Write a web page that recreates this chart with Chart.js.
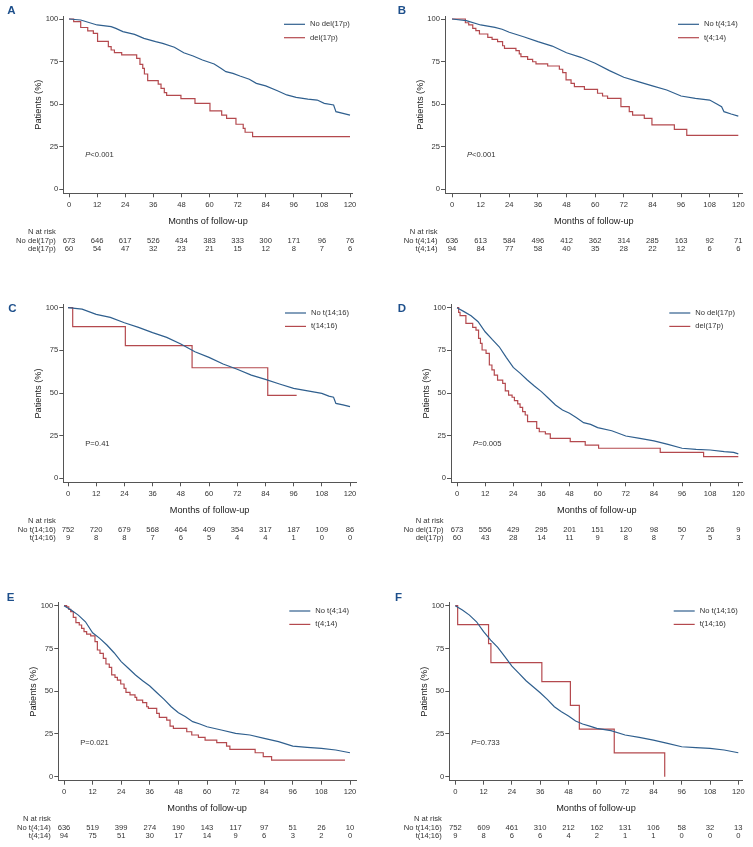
<!DOCTYPE html>
<html><head><meta charset="utf-8">
<script src="https://cdn.jsdelivr.net/npm/chart.js@4.4.1/dist/chart.umd.min.js"></script>
<style>
html,body{margin:0;padding:0;background:#fff;}
#wrap{position:relative;width:753px;height:847px;}
.pn{position:absolute;}
canvas{display:block;}
</style></head>
<body><div id="wrap"></div>
<script>
// ---------- tick labels ----------
const xTicks = [0,12,24,36,48,60,72,84,96,108,120];
const yTicks = [0,25,50,75,100];

// ---------- Panel A ----------
const aNoT  = [0,5,12,18,20,23,28,32,37,40,45,49,53,57,62,65,67,70,73,77,80,84,89,93,97,102,106,109,113,114,117,120];
const aNoS  = [100,99.4,96.5,95.5,94.5,92.6,91,88.6,86.7,85.7,83.4,80.2,78.3,75.9,73.6,71,69.1,68.1,66.5,64.6,62.2,60.7,57.9,55.4,54,53,52.4,50.5,49.5,45.6,44.6,43.6];
const aDelT = [0,2,5,8,10.4,12.2,16.8,18,19.4,22.5,28.9,30.3,31.5,32.2,33.6,38.1,39.3,40.7,41.7,47.8,53.8,60.2,65.2,67.3,71.3,74.4,75.2,78.4,120];
const aDelS = [100,98.5,95,93,91.6,86.9,83.8,81.8,80.2,78.9,76.9,73.4,71,67.7,63.8,61.8,59.3,56.8,55.2,53.2,50.5,46,43.6,41.7,38.2,35.8,33.5,30.9,30.9];
const aRiskNo  = [673,646,617,526,434,383,333,300,171,96,76];
const aRiskDel = [60,54,47,32,23,21,15,12,8,7,6];

// ---------- Panel B ----------
const bNoT = [0,6,12,18,21,24,30,36,42,48,54,60,66,72,78,84,90,96,102,108,111,113,114,117,120];
const bNoS = [100,99,96.5,95.1,94,92.2,89.6,86.7,84.1,80.2,77.5,74,69.7,65.8,63.2,60.7,58.3,54.8,53.4,52.4,50.1,48.5,45.6,44.2,43];
const bTT  = [0,5.6,7,8.7,10,11.5,15,16.8,19.1,21.2,22,26.8,28.2,28.9,31.7,33.8,35.2,40.1,45,46.4,47.8,49.9,51.3,55.5,61,63.1,65.2,70.8,74.3,75.7,80.6,83.8,93.2,98.4,120];
const bTS  = [100,97.8,96.5,94.5,93.2,91.2,89.2,88,86.7,84.3,82.8,81.4,79.5,77.9,76.3,74.9,73.6,72.4,70.5,68.5,64.2,62.2,60.3,58.7,56.4,54.8,53.4,48.5,45.6,43.6,41.7,37.8,35.2,31.7,31.7];
const bRiskNo = [636,613,584,496,412,362,314,285,163,92,71];
const bRiskT  = [94,84,77,58,40,35,28,22,12,6,6];

// ---------- Panel C ----------
const cNoT = [0,3,6,12,18,24,30,36,42,48,54,60,66,72,78,84,90,96,102,108,111,113,114,117,120];
const cNoS = [100,99.6,99.2,96.1,94.3,91.2,88.5,85.4,82.6,78.7,74.2,70.9,67,63.9,60.5,58,55.3,52.7,51.2,49.8,48.2,47.5,43.9,43,42];
const cTT  = [0,2,24.4,52.8,85,97.3];
const cTS  = [100,88.9,77.8,64.8,48.6,48.6];
const cRiskNo = [752,720,679,568,464,409,354,317,187,109,86];
const cRiskT  = [9,8,8,7,6,5,4,4,1,0,0];

// ---------- Panel D ----------
const dNoT  = [0,3,6,9,12,15,18,21,24,27,30,33,36,39,42,45,48,51,54,57,60,66,72,78,84,90,96,102,108,114,118,120];
const dNoS  = [100,97.7,95.3,91.8,85.9,81.4,77.1,70.9,65,61.5,57.6,54.1,50.8,46.9,43,40,38.1,35.5,32.6,31.6,29.7,27.9,24.8,23.4,21.9,19.9,17.6,17,16.6,15.6,15.2,14.3];
const dDelT = [0,0.7,1.3,3.8,6.7,8.1,9.2,10,10.7,12.4,13.8,14.9,15.9,17.3,19.5,20.6,22,23.5,24.5,25.9,26.9,28,29.1,30.1,34,35.1,37.7,39.8,48.3,54.7,60.4,86.7,105.2,120];
const dDelS = [100,97.3,95.3,90.8,88.5,86.9,82,79.1,75.2,73.2,66.4,63.5,60.5,57.6,55.7,51.2,48.8,47.5,45.5,43.6,41.6,39.1,37.1,33.2,29.3,27.3,26,23.4,21.5,19.5,17.6,15.2,12.7,12.7];
const dRiskNo  = [673,556,429,295,201,151,120,98,50,26,9];
const dRiskDel = [60,43,28,14,11,9,8,8,7,5,3];

// ---------- Panel E ----------
const eNoT = [0,3,6,9,12,15,18,21,24,27,30,33,36,39,42,45,48,51,54,57,60,66,72,78,84,90,96,102,108,114,120];
const eNoS = [100,97.5,94.5,90.6,84.2,80.9,77,72.5,67.3,63.4,59.5,56.1,53,49.1,45.2,40.9,37.4,35.1,32.2,30.8,29.2,27.3,25.3,24.4,22.4,20.5,17.9,17.2,16.6,15.6,14];
const eTT  = [0,1.1,2,2.8,3.9,5,6.4,7.4,8.4,9.5,11.2,13,14,15.1,16.5,17.6,19,20,21.4,22.4,23.8,25.2,26,27.7,29.8,30.5,33,34.7,35.4,38.9,40,43.1,44.5,45.9,51.5,53.6,56.4,59.2,64.1,68.2,69.6,80.2,83.6,87.1,117.9];
const eTS  = [100,99.4,97.9,96.5,93.2,90.1,88.7,86.7,84.8,83.4,82.3,79,74.1,72.1,69.2,65.9,63.9,59.5,58.1,56.5,54.2,51.7,49.3,47.8,46.4,44.8,43.3,40.9,40,37,34.7,33.1,29.6,28.3,26.3,24.4,23,21.4,19.9,17.9,16,14,11.7,9.7,9.7];
const eRiskNo = [636,519,399,274,190,143,117,97,51,26,10];
const eRiskT  = [94,75,51,30,17,14,9,6,3,2,0];

// ---------- Panel F ----------
const fNoT = [0,3,6,9,12,15,18,21,24,27,30,33,36,39,42,45,48,51,54,57,60,66,72,78,84,90,96,102,108,114,120];
const fNoS = [100,97.5,94.5,90.6,84.8,79.9,75.6,70.2,64.7,60.4,56.1,52.6,49.1,45.2,40.9,38,35.5,32.6,30.8,29.6,28.3,26.9,24.4,23,21.4,19.5,17.5,17,16.6,15.6,14];
const fTT  = [0,1,14.1,15.1,36.7,48.8,52.6,67.4,88.8];
const fTS  = [100,88.9,77.8,66.7,55.6,41.7,27.8,13.9,0];
const fRiskNo = [752,609,461,310,212,162,131,106,58,32,13];
const fRiskT  = [9,8,6,6,4,2,1,1,0,0,0];

// ---------- labels ----------
const groupLabels = {
  del17p: ['No del(17p)', 'del(17p)'],
  t414:   ['No t(4;14)', 't(4;14)'],
  t1416:  ['No t(14;16)', 't(14;16)']
};
const pValues = ['<0.001', '<0.001', '=0.41', '=0.005', '=0.021', '=0.733'];

// ---------- styling / layout ----------
const FONT = "'Liberation Sans', Arial, Helvetica, sans-serif";
const BLUE = '#2f5f8e', RED = '#b4494e', AXIS = '#555', TXT = '#333';
const XH = 33.5;

const panels = [
  {letter:'A', left:0,   top:0,   w:376, h:280, axL:63.3, axR:352.7, axT:16,   axB:193.3, X0:69,   X120:350,   Y100:19,    Y0:189.3, lx:284,   letX:7.3,  letY:11.2, pItalic:true,
   labels:groupLabels.del17p, no:[aNoT,aNoS], ev:[aDelT,aDelS], risk:[aRiskNo,aRiskDel], p:pValues[0]},
  {letter:'B', left:376, top:0,   w:377, h:280, axL:69,   axR:366.7, axT:16,   axB:193.3, X0:76,   X120:362.3, Y100:19,    Y0:189.3, lx:302,   letX:21.7, letY:10.5, pItalic:true,
   labels:groupLabels.t414, no:[bNoT,bNoS], ev:[bTT,bTS], risk:[bRiskNo,bRiskT], p:pValues[1]},
  {letter:'C', left:0,   top:280, w:376, h:280, axL:63.3, axR:356,   axT:24.7, axB:202.3, X0:68,   X120:350,   Y100:27.7,  Y0:198.3, lx:285,   letX:8.3,  letY:28.9, pItalic:false,
   labels:groupLabels.t1416, no:[cNoT,cNoS], ev:[cTT,cTS], risk:[cRiskNo,cRiskT], p:pValues[2]},
  {letter:'D', left:376, top:280, w:377, h:280, axL:75,   axR:366.7, axT:24.7, axB:202.3, X0:81,   X120:362.3, Y100:27.7,  Y0:198.3, lx:293.3, letX:21.7, letY:28.9, pItalic:true,
   labels:groupLabels.del17p, no:[dNoT,dNoS], ev:[dDelT,dDelS], risk:[dRiskNo,dRiskDel], p:pValues[3]},
  {letter:'E', left:0,   top:560, w:376, h:287, axL:58.3, axR:356,   axT:42.7, axB:220.7, X0:64,   X120:350,   Y100:45.7,  Y0:216.7, lx:289.3, letX:6.7,  letY:37.5, pItalic:false,
   labels:groupLabels.t414, no:[eNoT,eNoS], ev:[eTT,eTS], risk:[eRiskNo,eRiskT], p:pValues[4]},
  {letter:'F', left:376, top:560, w:377, h:287, axL:73.3, axR:366.7, axT:42.7, axB:220.7, X0:79.3, X120:362.3, Y100:45.7,  Y0:216.7, lx:297.7, letX:19,   letY:37.5, pItalic:true,
   labels:groupLabels.t1416, no:[fNoT,fNoS], ev:[fTT,fTS], risk:[fRiskNo,fRiskT], p:pValues[5]}
];

const extras = {
  id: 'kmExtras',
  afterDraw(chart, args, o) {
    const p = o.panel; if (!p) return;
    const ctx = chart.ctx, xs = chart.scales.x, ys = chart.scales.y;
    ctx.save();
    // panel letter
    ctx.fillStyle = '#1d4f8b';
    ctx.font = 'bold 11.5px ' + FONT;
    ctx.textAlign = 'left'; ctx.textBaseline = 'middle';
    ctx.fillText(p.letter, p.letX, p.letY);
    // legend
    const ly = [p.axT + 8.3, p.axT + 21.7];
    const cols = [BLUE, RED];
    ctx.font = '7.6px ' + FONT;
    for (let i = 0; i < 2; i++) {
      ctx.strokeStyle = cols[i]; ctx.lineWidth = 1.2;
      ctx.beginPath(); ctx.moveTo(p.lx, ly[i]); ctx.lineTo(p.lx + 21, ly[i]); ctx.stroke();
      ctx.fillStyle = TXT; ctx.fillText(p.labels[i], p.lx + 26, ly[i]);
    }
    // p value
    const px = p.axL + 22, py = ys.getPixelForValue(20);
    ctx.font = (p.pItalic ? 'italic ' : '') + '7.6px ' + FONT;
    ctx.fillText('P', px, py);
    const pw = ctx.measureText('P').width;
    ctx.font = '7.6px ' + FONT;
    ctx.fillText(p.p, px + pw, py);
    // risk table
    const base = chart.chartArea.bottom;
    const rows = [base + 38.5, base + 47.5, base + 55.5];
    ctx.textAlign = 'right';
    ctx.fillText('N at risk', p.axL - 7.5, rows[0]);
    ctx.fillText(p.labels[0], p.axL - 7.5, rows[1]);
    ctx.fillText(p.labels[1], p.axL - 7.5, rows[2]);
    ctx.textAlign = 'center';
    for (let r = 0; r < 2; r++) {
      p.risk[r].forEach((n, i) => ctx.fillText(String(n), xs.getPixelForValue(xTicks[i]), rows[r + 1]));
    }
    ctx.restore();
  }
};

const wrap = document.getElementById('wrap');
panels.forEach(p => {
  const div = document.createElement('div');
  div.className = 'pn';
  div.style.left = p.left + 'px'; div.style.top = p.top + 'px';
  div.style.width = p.w + 'px'; div.style.height = p.h + 'px';
  const cv = document.createElement('canvas');
  cv.width = p.w; cv.height = p.h;
  cv.style.width = p.w + 'px'; cv.style.height = p.h + 'px';
  div.appendChild(cv); wrap.appendChild(div);

  const kx = (p.X120 - p.X0) / 120;
  const ky = (p.Y0 - p.Y100) / 100;
  const xmin = (p.axL - p.X0) / kx, xmax = (p.axR - p.X0) / kx;
  const ymax = 100 + (p.Y100 - p.axT) / ky, ymin = -(p.axB - p.Y0) / ky;
  const toPts = (t, s) => t.map((v, i) => ({x: v, y: s[i]}));

  new Chart(cv.getContext('2d'), {
    type: 'line',
    data: {
      datasets: [
        {label: p.labels[0], data: toPts(p.no[0], p.no[1]), borderColor: BLUE, borderWidth: 1.2, pointRadius: 0, fill: false, tension: 0},
        {label: p.labels[1], data: toPts(p.ev[0], p.ev[1]), borderColor: RED, borderWidth: 1.2, pointRadius: 0, fill: false, stepped: 'before'}
      ]
    },
    options: {
      responsive: false, animation: false, events: [],
      layout: {padding: {left: 0, top: p.axT, right: p.w - p.axR, bottom: p.h - p.axB - XH}},
      plugins: {legend: {display: false}, tooltip: {enabled: false}, kmExtras: {panel: p}},
      scales: {
        x: {
          type: 'linear', min: xmin, max: xmax,
          afterBuildTicks: s => { s.ticks = xTicks.map(v => ({value: v})); },
          afterFit: s => { s.height = XH; },
          grid: {display: true, drawOnChartArea: false, drawTicks: true, tickLength: 4, color: AXIS, tickColor: AXIS, lineWidth: 1},
          border: {display: true, color: AXIS, width: 1},
          ticks: {font: {size: 7.6, family: FONT}, color: TXT, padding: 3, maxRotation: 0, autoSkip: false},
          title: {display: true, text: 'Months of follow-up', font: {size: 9.2, family: FONT}, color: '#222', padding: {top: 0, bottom: 0}}
        },
        y: {
          type: 'linear', min: ymin, max: ymax,
          afterBuildTicks: s => { s.ticks = yTicks.map(v => ({value: v})); },
          afterFit: s => { s.width = p.axL; },
          grid: {display: true, drawOnChartArea: false, drawTicks: true, tickLength: 4, color: AXIS, tickColor: AXIS, lineWidth: 1},
          border: {display: true, color: AXIS, width: 1},
          ticks: {font: {size: 7.6, family: FONT}, color: TXT, padding: 1},
          title: {display: true, text: 'Patients (%)', font: {size: 9.2, family: FONT}, color: '#222', padding: {top: p.axL - 25 - 5.5, bottom: 0}}
        }
      }
    },
    plugins: [extras]
  });
});
</script>
</body></html>
